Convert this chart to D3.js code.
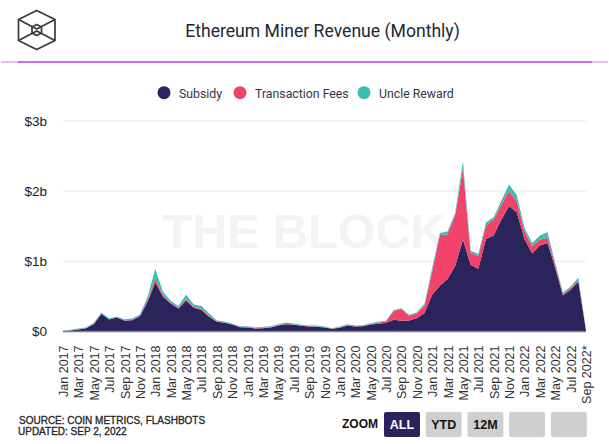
<!DOCTYPE html>
<html>
<head>
<meta charset="utf-8">
<script src="https://cdnjs.cloudflare.com/ajax/libs/d3/7.8.5/d3.min.js"></script>
<style>
  html, body { margin: 0; padding: 0; background: #fff; }
  svg { display: block; }
  .axis path, .axis line { display: none; }
</style>
</head>
<body>
<svg id="chart" width="609" height="444"></svg>
<script>
// Month labels, one for each point of the stack
var monthNames = ["Jan","Feb","Mar","Apr","May","Jun","Jul","Aug","Sep","Oct","Nov","Dec"]
var months = []
for (var yr = 2017; yr <= 2022; yr++) {
  monthNames.forEach(function(m, i) {
    if (yr < 2022 || i <= 8) months.push(m + " " + yr)
  })
}
months[months.length - 1] = "Sep 2022*"

// Values in $ billions
var subsidy = [.005,.014,.029,.048,.105,.248,.171,.2,.152,.162,.219,.424,.7,.495,.4,.329,.438,.338,.305,.21,.138,.124,.1,.062,.057,.043,.048,.057,.086,.105,.095,.081,.071,.067,
  .057,.038,.052,.086,.071,.076,.1,.11,.124,.167,.152,.157,.19,.262,.524,.652,.748,.938,1.31,.952,.895,1.319,1.367,1.595,1.786,1.7,1.319,1.11,1.224,1.262,.905,.514,.595,.714,.01]
var fees = [.001,.002,.003,.002,.005,.006,.005,.004,.006,.006,.006,.024,.057,.02,.012,.01,.025,.015,.017,.012,.005,.005,.004,.004,.005,.004,.005,.005,.005,.006,.005,.004,.004,.005,
  .004,.003,.005,.005,.004,.004,.005,.019,.019,.125,.168,.068,.068,.105,.333,.724,.638,.724,1.01,.167,.186,.19,.229,.214,.214,.157,.11,.105,.086,.071,.048,.019,.024,.014,.005]
var uncle = [.004,.008,.011,.008,.014,.018,.014,.01,.018,.018,.018,.047,.133,.05,.026,.023,.06,.033,.04,.036,.014,.014,.01,.01,.014,.01,.014,.014,.014,.018,.014,.01,.01,.014,
  .01,.007,.014,.014,.01,.01,.014,.01,.01,.013,.013,.013,.013,.028,.048,.029,.038,.029,.11,.033,.024,.048,.033,.057,.095,.086,.048,.048,.057,.081,.024,.024,.024,.043,.005]

var seriesNames = ["Subsidy", "Transaction Fees", "Uncle Reward"]
var seriesColors = ["#2a235c", "#f2436a", "#3dbdb0"]
var yTicks = [0, 1, 2, 3]
var yTickLabels = ["$0", "$1b", "$2b", "$3b"]
var zoomButtons = ["ALL", "YTD", "12M", "", ""]

var svg = d3.select("#chart")
var uiFont = "Roboto, sans-serif"
var axisFont = "'Liberation Sans', Arial, sans-serif"

var x = d3.scalePoint().domain(months).range([63, 586])
var y = d3.scaleLinear().domain([0, 3]).range([331.5, 121])

// Header: logo, title, purple rule
var logo = svg.append("g")
  .attr("fill", "none")
  .attr("stroke", "#3a3a3a")
  .attr("stroke-width", 1.7)
  .attr("stroke-linejoin", "round")
logo.append("path").attr("d", "M36.7 10.5 L55 19.5 L55 40.5 L36.7 49.5 L18.5 40.5 L18.5 19.5 Z")
logo.append("path").attr("d", "M18.5 19.5 L36.7 29 L55 19.5 M18.5 40.5 L36.7 31 L55 40.5")
logo.append("path").attr("d", "M36.7 24.5 L41.5 27 L41.5 33 L36.7 35.5 L32 33 L32 27 Z")

svg.append("text")
  .text("Ethereum Miner Revenue (Monthly)")
  .attr("x", 322.5).attr("y", 37)
  .attr("text-anchor", "middle")
  .attr("fill", "#222733")
  .style("font-family", uiFont)
  .style("font-size", "17.6px")

svg.append("rect").attr("x", 1).attr("y", 61).attr("width", 607).attr("height", 2).attr("fill", "#e5bdf7")
svg.append("rect").attr("x", 18).attr("y", 61).attr("width", 574).attr("height", 2).attr("fill", "#c76df0")

// Legend
var legendDotX = [164, 240, 364]
var legendTextX = [179, 255, 379]
var legend = svg.append("g").selectAll("g").data(seriesNames).join("g")
legend.append("circle")
  .attr("cx", function(d, i) { return legendDotX[i] })
  .attr("cy", 92.7)
  .attr("r", 6.5)
  .attr("fill", function(d, i) { return seriesColors[i] })
legend.append("text")
  .text(function(d) { return d })
  .attr("x", function(d, i) { return legendTextX[i] })
  .attr("y", 98)
  .attr("fill", "#333344")
  .style("font-family", uiFont)
  .style("font-size", "12.3px")

// Watermark
svg.append("text")
  .text("THE BLOCK")
  .attr("x", 304).attr("y", 248)
  .attr("text-anchor", "middle")
  .attr("fill", "#f3f3f3")
  .style("font-family", axisFont)
  .style("font-weight", "bold")
  .style("font-size", "48.5px")

// Gridlines and y axis
svg.append("g").selectAll("line").data(yTicks.slice(1)).join("line")
  .attr("x1", 63).attr("x2", 586)
  .attr("y1", function(d) { return y(d) })
  .attr("y2", function(d) { return y(d) })
  .attr("stroke", "#e8e8e8")

var yAxis = d3.axisLeft(y)
  .tickValues(yTicks)
  .tickFormat(function(d, i) { return yTickLabels[i] })
  .tickSize(0)
  .tickPadding(16)
svg.append("g").attr("class", "axis").attr("transform", "translate(63,0)").call(yAxis)
  .selectAll("text")
  .attr("fill", "#222")
  .style("font-family", axisFont)
  .style("font-size", "13.5px")

// Stacked areas
var table = months.map(function(m, i) {
  return { month: m, "Subsidy": subsidy[i], "Transaction Fees": fees[i], "Uncle Reward": uncle[i] }
})
var stacked = d3.stack().keys(seriesNames)(table)
var area = d3.area()
  .x(function(d) { return x(d.data.month) })
  .y0(function(d) { return y(d[0]) })
  .y1(function(d) { return y(d[1]) })

svg.append("g").selectAll("path").data(stacked).join("path")
  .attr("d", area)
  .attr("fill", function(d, i) { return seriesColors[i] })

// x axis, every second month
var xAxis = d3.axisBottom(x)
  .tickValues(months.filter(function(d, i) { return i % 2 == 0 }))
  .tickSize(0)
  .tickPadding(0)
var xg = svg.append("g").attr("class", "axis").attr("transform", "translate(0,331.5)").call(xAxis)
xg.selectAll("text")
  .attr("transform", "rotate(-90)")
  .attr("x", -14).attr("y", 4.5)
  .attr("dy", 0)
  .attr("text-anchor", "end")
  .attr("fill", "#333")
  .style("font-family", axisFont)
  .style("font-size", "12.5px")

svg.append("line")
  .attr("x1", 63).attr("x2", 586)
  .attr("y1", 331.5).attr("y2", 331.5)
  .attr("stroke", "#807c8c")
  .attr("stroke-width", 1.4)

// Footer
svg.append("text").text("SOURCE: COIN METRICS, FLASHBOTS")
  .attr("x", 19).attr("y", 424)
  .attr("fill", "#222")
  .attr("stroke", "#222")
  .attr("stroke-width", 0.3)
  .style("font-family", axisFont)
  .style("font-size", "10px")
svg.append("text").text("UPDATED: SEP 2, 2022")
  .attr("x", 18).attr("y", 435)
  .attr("fill", "#222")
  .attr("stroke", "#222")
  .attr("stroke-width", 0.3)
  .style("font-family", axisFont)
  .style("font-size", "10px")

// Zoom buttons
svg.append("text").text("ZOOM")
  .attr("x", 342).attr("y", 428)
  .attr("fill", "#111")
  .style("font-family", axisFont)
  .style("font-weight", "bold")
  .style("font-size", "12px")

var buttons = svg.append("g").selectAll("g").data(zoomButtons).join("g")
  .attr("transform", function(d, i) { return "translate(" + (384 + i * 41.7) + ",412)" })
buttons.append("rect")
  .attr("width", 36).attr("height", 25).attr("rx", 2)
  .attr("fill", function(d, i) { return i == 0 ? "#2a235c" : "#cfcfcf" })
buttons.append("text")
  .text(function(d) { return d })
  .attr("x", 18).attr("y", 17)
  .attr("text-anchor", "middle")
  .attr("fill", function(d, i) { return i == 0 ? "#fff" : "#111" })
  .style("font-family", axisFont)
  .style("font-weight", "bold")
  .style("font-size", "12.5px")
</script>
</body>
</html>
